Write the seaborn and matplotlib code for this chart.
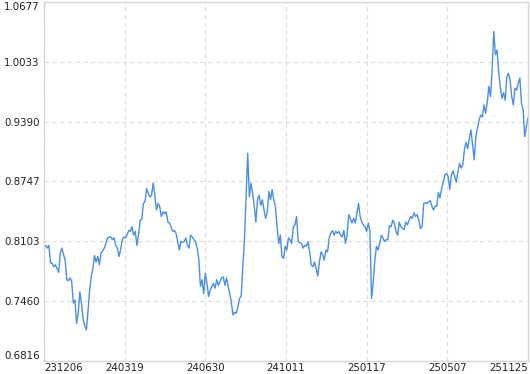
import numpy as np
import pandas as pd
import matplotlib
matplotlib.use("Agg")
import matplotlib.pyplot as plt
import seaborn as sns

date_labels = ["231206", "240319", "240630", "241011", "250117", "250507", "251125"]
y_ticks = [0.6816, 0.7460, 0.8103, 0.8747, 0.9390, 1.0033, 1.0677]

seg_a = [0.805, 0.806, 0.803, 0.806, 0.787, 0.787, 0.783, 0.785, 0.781, 0.777,
         0.798, 0.803, 0.796, 0.790, 0.769, 0.768, 0.771, 0.767, 0.744, 0.747,
         0.722, 0.733, 0.756, 0.744, 0.726, 0.720, 0.715, 0.735, 0.758, 0.772,
         0.781, 0.795, 0.788, 0.794, 0.785, 0.798, 0.800, 0.803, 0.808, 0.814,
         0.815, 0.815, 0.812, 0.814, 0.806, 0.803, 0.794]
seg_b = [0.801, 0.812, 0.815, 0.814, 0.817, 0.822, 0.821, 0.826, 0.817, 0.821,
         0.806, 0.817, 0.833, 0.834, 0.851, 0.853, 0.867, 0.862, 0.858, 0.860,
         0.873, 0.860, 0.844, 0.851, 0.848, 0.837, 0.842, 0.840, 0.842, 0.831,
         0.830, 0.826, 0.821, 0.822, 0.819, 0.810, 0.801, 0.810, 0.809, 0.810,
         0.814, 0.806, 0.803, 0.817, 0.815, 0.812, 0.810, 0.803]
seg_c = [0.791, 0.762, 0.769, 0.754, 0.776, 0.765, 0.751, 0.758, 0.762, 0.765,
         0.760, 0.769, 0.763, 0.767, 0.771, 0.772, 0.763, 0.771, 0.762, 0.754,
         0.744, 0.731, 0.734, 0.733, 0.740, 0.749, 0.751, 0.783, 0.812, 0.858,
         0.905, 0.858, 0.873, 0.862, 0.848, 0.831, 0.855, 0.860, 0.849, 0.855,
         0.844, 0.835, 0.842, 0.864, 0.855, 0.866, 0.855, 0.848, 0.826, 0.808,
         0.817, 0.794, 0.792, 0.805, 0.801]
seg_d = [0.814, 0.812, 0.808, 0.826, 0.828, 0.837, 0.810, 0.809, 0.808, 0.803,
         0.806, 0.805, 0.810, 0.799, 0.785, 0.783, 0.788, 0.781, 0.773, 0.788,
         0.799, 0.796, 0.790, 0.801, 0.799, 0.814, 0.819, 0.822, 0.817, 0.821,
         0.819, 0.821, 0.817, 0.815, 0.822, 0.808, 0.817, 0.839, 0.835, 0.830,
         0.835, 0.830, 0.840, 0.851, 0.837, 0.831, 0.828, 0.826, 0.821, 0.830,
         0.821]
seg_e = [0.749, 0.765, 0.790, 0.805, 0.801, 0.808, 0.817, 0.814, 0.810, 0.812,
         0.812, 0.827, 0.826, 0.833, 0.830, 0.821, 0.817, 0.831, 0.826, 0.824,
         0.823, 0.831, 0.828, 0.833, 0.837, 0.835, 0.841, 0.837, 0.839, 0.833,
         0.824, 0.826, 0.851, 0.852, 0.851, 0.853, 0.854, 0.848, 0.844, 0.848,
         0.848, 0.863, 0.857, 0.867, 0.874, 0.882]
seg_f = [0.883, 0.880, 0.866, 0.882, 0.886, 0.880, 0.874, 0.885, 0.894, 0.889,
         0.893, 0.909, 0.917, 0.910, 0.921, 0.930, 0.914, 0.898, 0.923, 0.932,
         0.941, 0.946, 0.944, 0.957, 0.948, 0.960, 0.977, 0.966, 0.995, 1.036,
         1.011, 1.016, 0.992, 0.977, 0.964, 0.970, 0.962, 0.987, 0.991, 0.984,
         0.966, 0.957, 0.975, 0.973, 0.980, 0.986, 0.959, 0.952, 0.923, 0.934,
         0.943]

values = seg_a + seg_b + seg_c + seg_d + seg_e + seg_f
df = pd.DataFrame({"idx": np.arange(len(values)), "value": values})

sns.set_theme(style="white")
plt.rcParams["font.family"] = ["DejaVu Sans"]

fig = plt.figure(figsize=(5.30, 3.74), dpi=100)
ax = fig.add_axes([44 / 530, 13 / 374, 484 / 530, 359 / 374])

sns.lineplot(data=df, x="idx", y="value", ax=ax, color="#4a8ee6", linewidth=1.0)

n = len(values) - 1
ax.set_xlim(0, n)
ax.set_ylim(y_ticks[0], y_ticks[-1])

xpos = np.linspace(0, n, len(date_labels))
ax.set_xticks(xpos)
ax.set_xticklabels(date_labels, fontsize=7.4, color="#222222")
ax.set_yticks(y_ticks)
ax.set_yticklabels([f"{v:.4f}" for v in y_ticks], fontsize=7.4, color="#222222")

xl = ax.get_xticklabels()
xl[0].set_ha("left")
xl[-1].set_ha("right")
yl = ax.get_yticklabels()
yl[0].set_va("bottom")
yl[-1].set_va("top")

ax.tick_params(axis="x", length=0, pad=1.2)
ax.tick_params(axis="y", length=0, pad=3)
ax.grid(True, color="#dcdcdc", linestyle=(0, (4, 3)), linewidth=0.8)
ax.set_xlabel("")
ax.set_ylabel("")
for s in ax.spines.values():
    s.set_color("#d6d6d6")
    s.set_linewidth(1.0)

fig.savefig("out.png", dpi=100, facecolor="white")
